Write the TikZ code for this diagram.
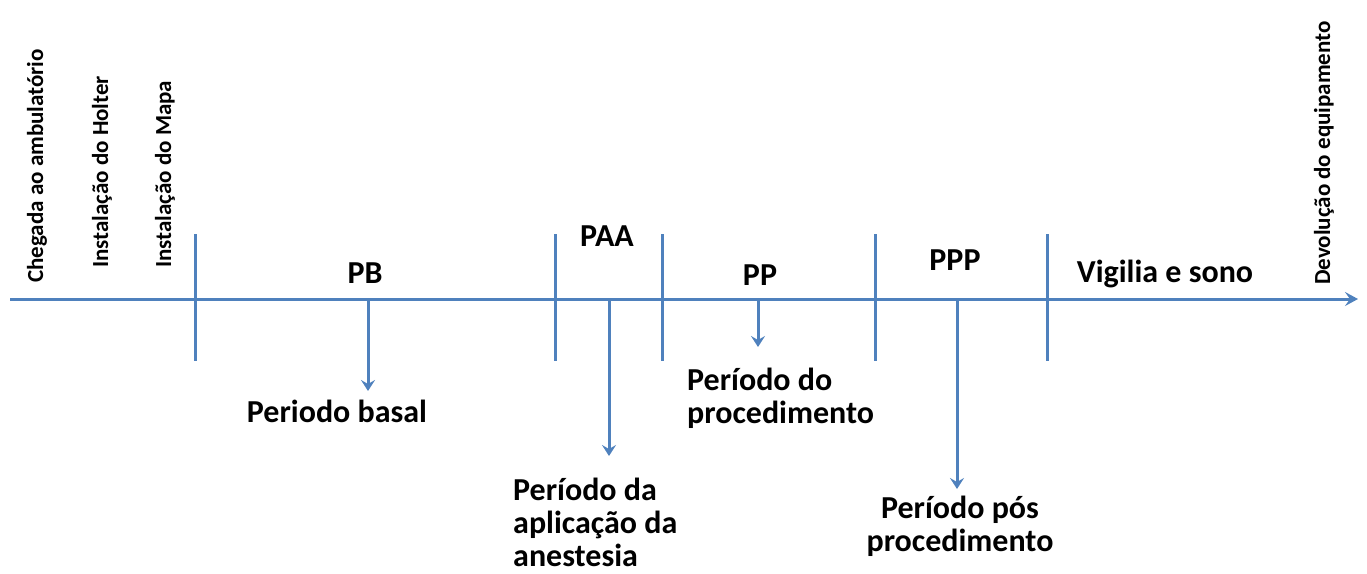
\documentclass[tikz,border=0pt]{standalone}
\usepackage{fontspec}
\setmainfont{Carlito}
\usetikzlibrary{arrows.meta}
\definecolor{axisblue}{RGB}{79,129,189}
\tikzset{
  axisline/.style={draw=axisblue, line width=3pt},
  tick/.style={draw=axisblue, line width=3pt},
  pointer/.style={draw=axisblue, line width=3pt, -{Stealth[length=11pt,width=14pt,inset=4pt]}},
  period/.style={font=\fontsize{32}{32}\selectfont\bfseries, inner sep=0pt, anchor=base},
  desc/.style={font=\fontsize{32}{33}\selectfont\bfseries, inner sep=0pt},
  vert/.style={font=\fontsize{23}{23}\selectfont\bfseries, inner sep=0pt, rotate=90, anchor=base west},
}
\begin{document}
\begin{tikzpicture}[x=1pt,y=-1pt]
\useasboundingbox (0,0) rectangle (1367,573);
% axis
\coordinate (a0) at (10,299);
\coordinate (a1) at (1358,299);
\draw[axisline, -{Stealth[length=13pt,width=14pt,inset=5pt]}] (a0) -- (a1);
% ticks
\foreach \n/\x in {t1/195, t2/555, t3/662, t4/875, t5/1047} {
  \coordinate (\n top) at (\x,234);
  \coordinate (\n bot) at (\x,361);
  \draw[tick] (\n top) -- (\n bot);
}
% period labels
\node[period] (pb) at (365,283) {PB};
\node[period] (paa) at (607,246) {PAA};
\node[period] (pp) at (760,285) {PP};
\node[period] (ppp) at (955,270) {PPP};
\node[period] (vs) at (1165,282) {Vigilia e sono};
% vertical labels
\node[vert] (chegada) at (43,283) {Chegada ao ambulatório};
\node[vert] (holter) at (108,268) {Instalação do Holter};
\node[vert] (mapa) at (171,268) {Instalação do Mapa};
\node[vert] (devol) at (1330,285) {Devolução do equipamento};
% descriptions (base = baseline of last line)
\node[desc, anchor=base] (dpb) at (337,422) {Periodo basal};
\node[desc, anchor=base west, align=left] (dpaa) at (513,566) {Período da\\aplicação da\\anestesia};
\node[desc, anchor=base west, align=left] (dpp) at (687,423) {Período do\\procedimento};
\node[desc, anchor=base, align=center] (dppp) at (960,551) {Período pós\\procedimento};
% pointer arrows
\coordinate (s1) at (368,299); \coordinate (e1) at (368,391);
\coordinate (s2) at (609,299); \coordinate (e2) at (609,456);
\coordinate (s3) at (758,299); \coordinate (e3) at (758,347);
\coordinate (s4) at (957,299); \coordinate (e4) at (957,489);
\draw[pointer] (s1) -- (e1);
\draw[pointer] (s2) -- (e2);
\draw[pointer] (s3) -- (e3);
\draw[pointer] (s4) -- (e4);
\end{tikzpicture}
\end{document}
